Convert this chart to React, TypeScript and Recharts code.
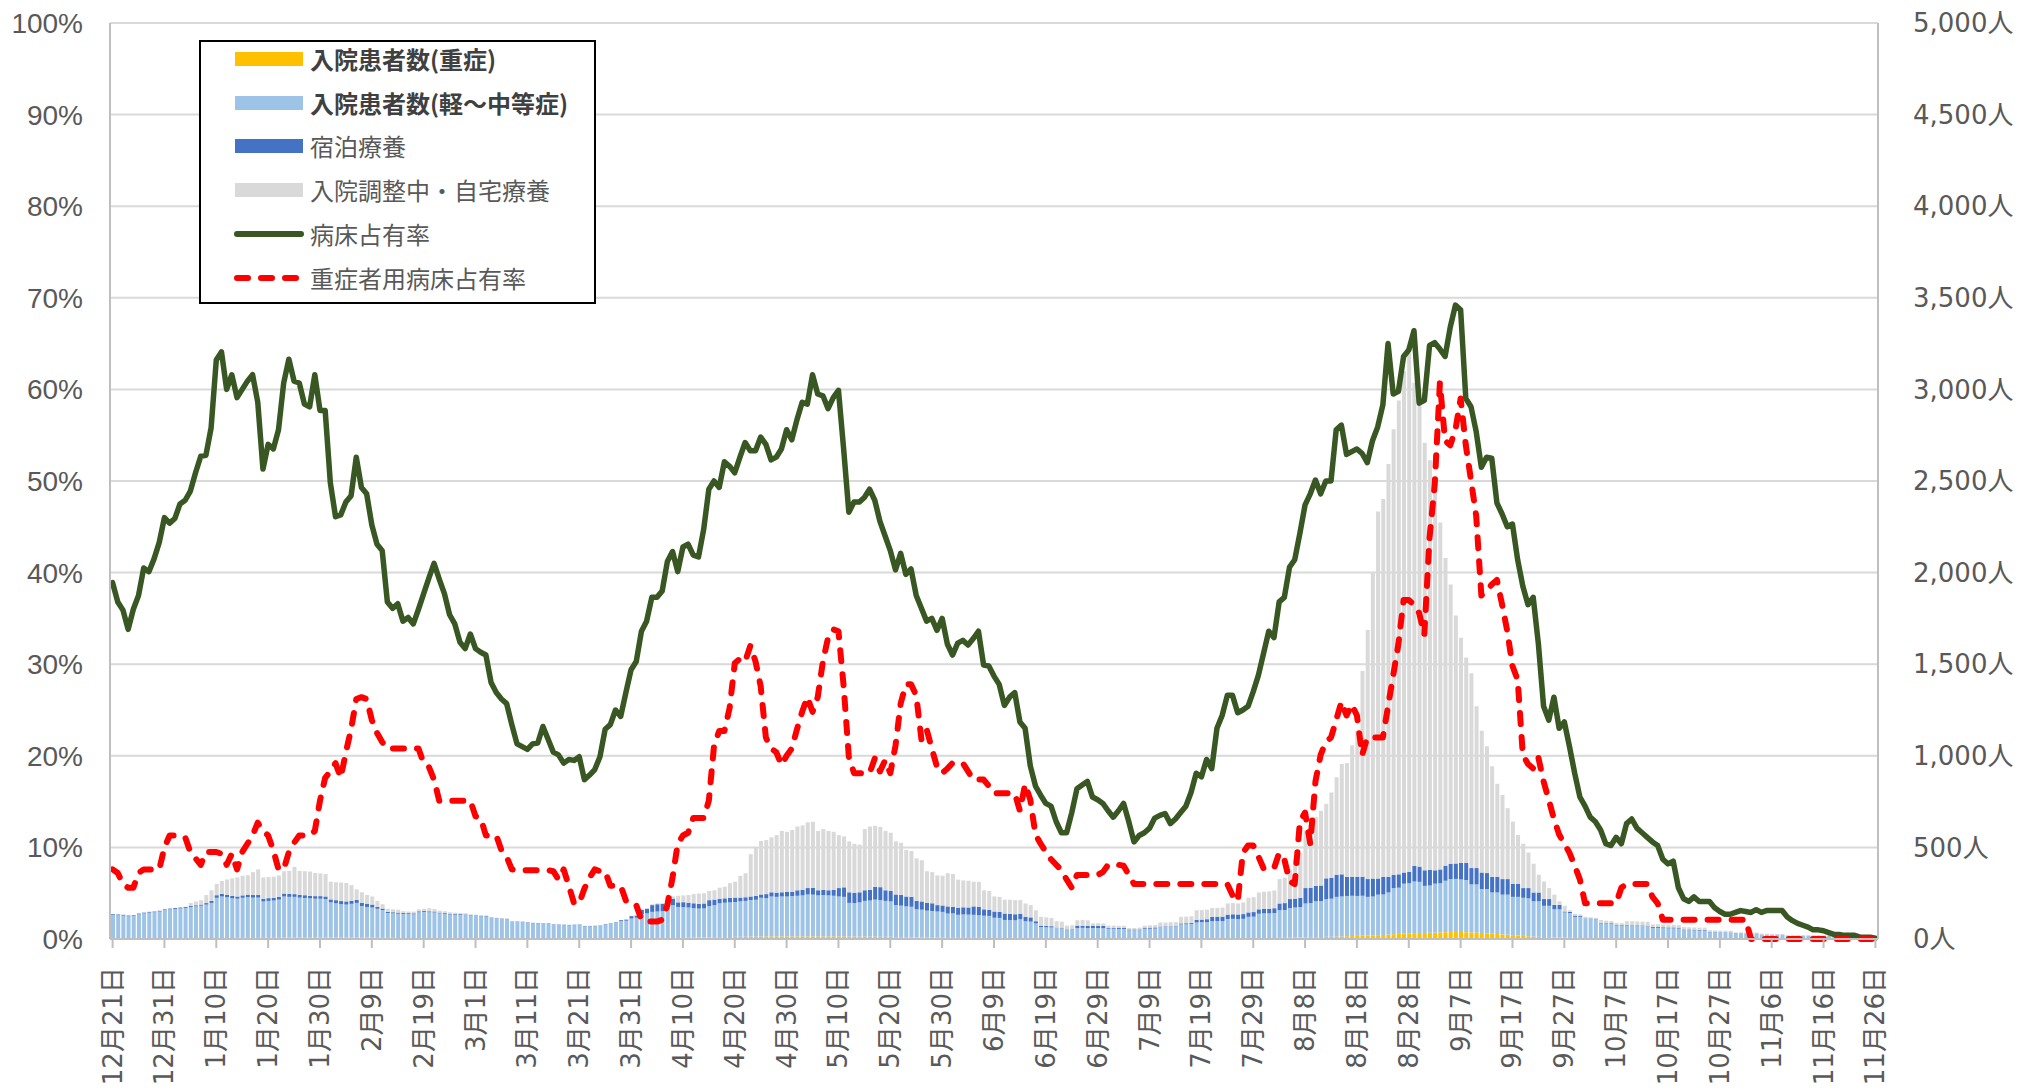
import {
  ComposedChart,
  Bar,
  Line,
  XAxis,
  YAxis,
  CartesianGrid,
  Legend,
} from "recharts";

// 12/21 .. 11/26, one entry per day (341 days)
const tickLabels = [
  "12月21日", "12月31日", "1月10日", "1月20日", "1月30日", "2月9日", "2月19日",
  "3月1日", "3月11日", "3月21日", "3月31日", "4月10日", "4月20日", "4月30日",
  "5月10日", "5月20日", "5月30日", "6月9日", "6月19日", "6月29日", "7月9日",
  "7月19日", "7月29日", "8月8日", "8月18日", "8月28日", "9月7日", "9月17日",
  "9月27日", "10月7日", "10月17日", "10月27日", "11月6日", "11月16日", "11月26日",
];

// 病床占有率 (%)
const bedRate = [
  38.9, 36.8, 35.9, 33.8, 36.0, 37.5, 40.5, 40.1, 41.5, 43.3,
  46.0, 45.4, 45.9, 47.5, 47.9, 48.9, 50.9, 52.7, 52.8, 55.8,
  63.2, 64.1, 60.0, 61.6, 59.1, 60.0, 60.9, 61.6, 58.6, 51.3,
  54.0, 53.5, 55.6, 60.7, 63.3, 60.9, 60.7, 58.4, 58.1, 61.6,
  57.7, 57.7, 49.8, 46.1, 46.3, 47.7, 48.4, 52.6, 49.3, 48.6,
  45.2, 43.1, 42.4, 36.8, 36.1, 36.6, 34.7, 35.1, 34.4, 36.0,
  37.7, 39.4, 41.0, 39.3, 37.7, 35.4, 34.4, 32.4, 31.7, 33.3,
  31.7, 31.3, 31.0, 28.0, 26.9, 26.2, 25.7, 23.4, 21.3, 21.0,
  20.7, 21.3, 21.4, 23.2, 21.8, 20.4, 20.1, 19.2, 19.6, 19.5,
  19.9, 17.4, 17.9, 18.5, 19.9, 22.9, 23.4, 25.0, 24.3, 26.9,
  29.4, 30.3, 33.6, 34.7, 37.3, 37.3, 38.0, 41.2, 42.3, 40.1,
  42.8, 43.1, 41.9, 41.7, 44.7, 49.1, 50.0, 49.3, 52.1, 51.6,
  50.9, 52.6, 54.2, 53.3, 53.3, 54.8, 54.0, 52.3, 52.6, 53.5,
  55.6, 54.5, 56.7, 58.6, 58.4, 61.6, 59.5, 59.3, 57.9, 59.1,
  59.9, 53.5, 46.6, 47.7, 47.7, 48.2, 49.1, 47.9, 45.6, 44.0,
  42.4, 40.3, 42.1, 39.8, 40.4, 37.5, 36.1, 34.7, 35.0, 33.7,
  35.0, 32.2, 31.0, 32.3, 32.6, 32.1, 32.8, 33.6, 29.9, 29.8,
  28.7, 27.8, 25.5, 26.4, 26.9, 23.7, 23.0, 18.9, 16.7, 15.7,
  14.8, 14.5, 12.8, 11.6, 11.6, 13.8, 16.4, 16.8, 17.2, 15.5,
  15.2, 14.8, 14.0, 13.3, 14.0, 14.8, 12.8, 10.6, 11.3, 11.6,
  12.1, 13.2, 13.5, 13.7, 12.6, 13.1, 13.8, 14.5, 16.0, 18.1,
  17.7, 19.6, 18.6, 23.0, 24.4, 26.6, 26.6, 24.7, 25.0, 25.4,
  27.0, 28.8, 31.2, 33.6, 32.9, 36.8, 37.3, 40.6, 41.4, 44.3,
  47.4, 48.6, 50.1, 48.6, 50.0, 50.0, 55.6, 56.1, 52.9, 53.2,
  53.5, 53.0, 52.0, 54.4, 55.9, 58.3, 65.0, 59.5, 59.8, 63.6,
  64.3, 66.4, 58.5, 58.8, 64.8, 65.1, 64.4, 63.6, 66.8, 69.2,
  68.7, 59.0, 58.1, 55.4, 51.5, 52.6, 52.5, 47.6, 46.4, 45.0,
  45.3, 41.4, 38.5, 36.5, 37.3, 32.2, 25.4, 23.9, 26.4, 23.0,
  23.7, 21.0, 18.1, 15.5, 14.5, 13.3, 12.8, 11.9, 10.4, 10.2,
  11.1, 10.4, 12.6, 13.1, 12.1, 11.6, 11.1, 10.6, 10.2, 8.7,
  8.2, 8.5, 5.6, 4.4, 4.1, 4.6, 4.1, 4.1, 4.1, 3.4,
  3.0, 2.7, 2.7, 2.9, 3.1, 3.0, 2.9, 3.2, 2.9, 3.1,
  3.1, 3.1, 3.1, 2.4, 2.0, 1.7, 1.5, 1.3, 1.0, 1.0,
  0.9, 0.7, 0.5, 0.5, 0.4, 0.4, 0.4, 0.2, 0.2, 0.2,
  0.1,
];

// 重症者用病床占有率 (%)
const severeBedRate = [
  7.6, 7.2, 6.0, 5.6, 5.6, 7.2, 7.6, 7.6, 7.6, 7.6,
  10.0, 11.3, 11.3, 11.3, 11.1, 9.5, 8.8, 8.1, 9.5, 9.5,
  9.5, 9.3, 8.1, 9.3, 7.6, 9.5, 10.4, 11.3, 12.7, 11.8,
  11.3, 9.7, 7.6, 7.6, 9.5, 10.5, 11.3, 11.3, 11.3, 11.8,
  15.1, 17.6, 18.3, 19.2, 17.6, 20.4, 22.9, 26.2, 26.4, 26.2,
  23.9, 22.5, 21.5, 20.8, 20.8, 20.8, 20.8, 20.8, 20.8, 20.8,
  19.2, 18.8, 17.4, 15.1, 15.1, 15.1, 15.1, 15.1, 15.1, 15.1,
  13.4, 13.2, 11.3, 11.3, 11.3, 9.7, 9.0, 7.6, 7.5, 7.5,
  7.5, 7.5, 7.5, 7.5, 7.5, 7.4, 6.5, 7.6, 5.8, 3.9,
  3.9, 5.5, 6.7, 7.6, 7.4, 7.4, 5.8, 5.8, 5.8, 4.2,
  3.7, 3.7, 2.1, 1.9, 1.9, 1.9, 2.1, 3.7, 6.7, 10.4,
  11.3, 11.6, 13.2, 13.2, 13.2, 15.1, 21.1, 22.7, 22.7, 25.2,
  30.1, 30.6, 30.3, 32.0, 30.3, 27.6, 22.0, 20.8, 20.4, 19.0,
  20.0, 20.8, 22.9, 24.8, 26.4, 24.8, 26.4, 30.3, 32.9, 33.8,
  33.6, 27.6, 19.9, 18.1, 18.1, 18.1, 18.1, 19.7, 18.3, 19.5,
  18.1, 21.1, 25.7, 27.8, 27.8, 26.6, 21.8, 22.9, 20.8, 18.8,
  18.1, 18.6, 19.2, 19.2, 19.2, 18.3, 17.4, 17.4, 17.4, 16.7,
  15.9, 15.9, 15.9, 15.9, 15.9, 14.0, 16.9, 15.2, 11.4, 10.4,
  9.5, 8.7, 8.1, 7.5, 6.5, 5.6, 7.0, 7.0, 7.0, 7.0,
  7.0, 7.3, 8.1, 8.1, 8.1, 8.0, 7.0, 6.0, 6.0, 6.0,
  6.0, 6.0, 6.0, 6.0, 6.0, 6.0, 6.0, 6.0, 6.0, 6.0,
  6.0, 6.0, 6.0, 6.0, 6.0, 6.0, 4.8, 4.1, 9.4, 10.2,
  10.2, 9.0, 7.7, 7.7, 7.7, 9.4, 8.7, 6.3, 6.0, 12.8,
  13.8, 10.4, 17.2, 20.1, 21.5, 22.0, 23.9, 25.9, 24.4, 25.6,
  24.4, 20.1, 22.0, 22.0, 22.0, 22.0, 25.4, 28.8, 32.2, 37.0,
  37.0, 36.5, 35.6, 33.2, 43.8, 49.6, 60.7, 54.4, 53.9, 55.6,
  59.0, 53.9, 50.1, 46.2, 37.5, 38.0, 38.7, 39.2, 36.5, 33.6,
  29.8, 28.3, 20.1, 19.1, 18.6, 19.8, 17.2, 15.2, 13.1, 11.4,
  10.4, 9.4, 8.0, 6.5, 3.9, 3.9, 3.9, 3.9, 3.9, 3.9,
  3.9, 5.6, 6.0, 6.0, 6.0, 6.0, 6.0, 4.6, 3.9, 2.1,
  2.1, 2.1, 2.1, 2.1, 2.1, 2.1, 2.1, 2.1, 2.1, 2.1,
  2.1, 2.1, 2.1, 2.1, 2.1, 2.1, 0, 0, 0, 0,
  0, 0, 0, 0, 0, 0, 0, 0, 0, 0,
  0, 0, 0, 0, 0, 0, 0, 0, 0, 0,
  0,
];

// 入院患者数(重症) 人
const severe = [
  4, 4, 4, 4, 4, 4, 4, 4, 4, 4,
  4, 4, 4, 5, 5, 5, 5, 5, 5, 5,
  5, 5, 5, 5, 6, 6, 6, 6, 6, 6,
  6, 6, 6, 7, 7, 7, 7, 7, 7, 7,
  7, 7, 7, 7, 7, 7, 7, 7, 7, 7,
  7, 6, 6, 6, 6, 5, 5, 5, 5, 5,
  5, 5, 4, 4, 4, 4, 4, 4, 4, 4,
  4, 4, 3, 3, 3, 3, 3, 3, 3, 3,
  3, 3, 3, 3, 3, 3, 3, 3, 3, 3,
  3, 3, 3, 3, 3, 3, 3, 3, 3, 3,
  3, 3, 3, 4, 4, 4, 4, 5, 5, 5,
  6, 7, 8, 8, 9, 9, 10, 10, 11, 11,
  12, 12, 12, 13, 13, 13, 14, 14, 14, 14,
  14, 14, 14, 14, 14, 14, 14, 14, 14, 14,
  14, 14, 13, 13, 13, 13, 13, 13, 12, 12,
  12, 10, 10, 9, 9, 8, 8, 7, 7, 7,
  7, 6, 6, 6, 6, 6, 6, 6, 5, 5,
  5, 5, 5, 5, 4, 4, 4, 4, 4, 3,
  3, 3, 3, 3, 3, 3, 3, 3, 3, 3,
  3, 3, 3, 3, 3, 3, 3, 3, 3, 3,
  3, 3, 3, 3, 3, 3, 3, 3, 3, 3,
  3, 3, 4, 4, 4, 4, 4, 4, 4, 4,
  4, 5, 5, 5, 5, 6, 6, 7, 7, 8,
  9, 10, 10, 11, 12, 12, 13, 14, 15, 16,
  17, 18, 19, 20, 21, 22, 24, 26, 28, 30,
  31, 32, 33, 33, 34, 35, 36, 37, 38, 38,
  38, 37, 36, 35, 33, 31, 29, 27, 25, 23,
  21, 19, 17, 15, 13, 12, 11, 10, 9, 8,
  7, 6, 5, 5, 4, 4, 4, 3, 3, 3,
  3, 3, 3, 3, 3, 3, 3, 2, 2, 2,
  2, 2, 2, 2, 2, 2, 2, 2, 1, 1,
  1, 1, 1, 1, 1, 1, 1, 1, 1, 1,
  1, 1, 1, 0, 0, 0, 0, 0, 0, 0,
  0, 0, 0, 0, 0, 0, 0, 0, 0, 0,
  0,
];

// 入院患者数(軽～中等症) 人
const mild = [
  128, 126, 124, 120, 122, 131, 136, 140, 142, 146,
  154, 158, 160, 162, 165, 170, 173, 177, 183, 192,
  220, 227, 223, 217, 214, 219, 222, 220, 220, 199,
  202, 204, 209, 225, 223, 223, 219, 217, 215, 213,
  213, 211, 193, 188, 183, 181, 185, 190, 173, 168,
  165, 159, 152, 136, 134, 133, 132, 131, 130, 141,
  143, 141, 141, 136, 134, 130, 129, 128, 127, 123,
  122, 120, 120, 112, 109, 107, 105, 92, 90, 89,
  87, 83, 82, 81, 81, 75, 74, 73, 72, 73,
  74, 66, 66, 67, 69, 77, 81, 85, 95, 97,
  109, 113, 132, 136, 144, 146, 148, 175, 180, 170,
  168, 165, 160, 158, 158, 171, 175, 185, 187, 189,
  190, 194, 196, 200, 201, 212, 209, 218, 216, 218,
  218, 220, 222, 224, 229, 228, 224, 226, 224, 222,
  218, 216, 184, 183, 187, 195, 197, 202, 200, 196,
  193, 175, 172, 169, 167, 154, 152, 148, 146, 143,
  141, 133, 134, 126, 128, 127, 126, 124, 122, 121,
  111, 110, 99, 98, 98, 104, 93, 91, 81, 62,
  61, 60, 57, 55, 45, 47, 57, 58, 57, 57,
  57, 56, 53, 53, 52, 52, 45, 45, 45, 53,
  53, 54, 62, 63, 63, 64, 77, 78, 79, 87,
  89, 89, 93, 94, 94, 105, 106, 104, 106, 117,
  118, 133, 135, 135, 137, 151, 152, 162, 165, 166,
  185, 186, 196, 196, 206, 208, 217, 218, 220, 220,
  218, 218, 211, 212, 221, 221, 230, 252, 252, 272,
  273, 282, 279, 257, 258, 267, 268, 281, 289, 290,
  287, 285, 262, 263, 240, 242, 225, 227, 217, 219,
  209, 211, 208, 207, 193, 194, 170, 171, 153, 154,
  138, 136, 116, 116, 105, 105, 104, 82, 82, 81,
  70, 70, 70, 69, 69, 68, 67, 58, 58, 57,
  56, 56, 55, 46, 46, 45, 44, 44, 35, 35,
  34, 34, 33, 31, 30, 29, 29, 29, 23, 23,
  22, 22, 22, 17, 17, 17, 17, 17, 17, 17,
  16, 16, 16, 15, 15, 15, 15, 14, 14, 14,
  14,
];

// 宿泊療養 人
const hotel = [
  4, 4, 4, 4, 4, 4, 4, 4, 4, 4,
  4, 4, 5, 5, 5, 5, 6, 6, 8, 11,
  14, 14, 14, 13, 12, 13, 14, 14, 14, 15,
  15, 15, 15, 16, 16, 15, 15, 15, 14, 14,
  14, 14, 16, 17, 17, 17, 16, 16, 17, 18,
  16, 10, 8, 6, 6, 6, 5, 5, 5, 5,
  5, 5, 5, 4, 4, 4, 4, 4, 3, 3,
  3, 3, 3, 2, 2, 2, 2, 2, 2, 2,
  2, 2, 2, 2, 2, 2, 2, 2, 2, 2,
  2, 2, 2, 2, 2, 2, 2, 3, 5, 6,
  13, 12, 25, 25, 37, 40, 40, 35, 35, 25,
  27, 26, 27, 26, 27, 32, 30, 25, 24, 25,
  24, 20, 20, 19, 22, 18, 22, 23, 23, 23,
  25, 24, 30, 30, 35, 38, 28, 28, 28, 32,
  46, 52, 58, 56, 55, 58, 58, 70, 71, 58,
  57, 58, 58, 54, 54, 46, 45, 42, 42, 35,
  35, 39, 36, 39, 39, 39, 46, 46, 35, 34,
  34, 33, 35, 34, 33, 30, 24, 23, 12, 8,
  8, 7, 2, 2, 4, 3, 13, 11, 12, 13,
  12, 13, 4, 4, 5, 5, 4, 4, 4, 6,
  6, 6, 3, 3, 3, 3, 5, 5, 5, 15,
  14, 16, 24, 24, 24, 24, 25, 26, 26, 24,
  25, 24, 24, 25, 26, 37, 38, 49, 48, 51,
  84, 84, 84, 85, 113, 113, 121, 121, 104, 104,
  104, 104, 97, 98, 88, 96, 85, 73, 73, 61,
  62, 85, 83, 85, 86, 73, 76, 82, 84, 84,
  90, 94, 89, 89, 90, 87, 85, 85, 85, 85,
  72, 72, 53, 56, 48, 48, 37, 37, 24, 24,
  5, 6, 7, 6, 3, 3, 3, 3, 3, 3,
  3, 3, 3, 3, 3, 3, 3, 5, 5, 5,
  5, 5, 5, 4, 4, 4, 4, 4, 2, 2,
  2, 2, 2, 1, 1, 1, 1, 1, 1, 1,
  1, 1, 1, 1, 1, 1, 1, 1, 1, 1,
  1, 1, 1, 1, 1, 1, 1, 1, 1, 1,
  1,
];

// 入院調整中・自宅療養 人
const home = [
  1, 1, 1, 1, 1, 1, 1, 1, 1, 1,
  1, 1, 1, 1, 1, 17, 21, 24, 44, 58,
  62, 71, 83, 96, 104, 107, 106, 125, 140, 116,
  115, 115, 117, 122, 126, 149, 131, 131, 132, 126,
  124, 123, 97, 98, 101, 101, 86, 58, 58, 47,
  44, 33, 24, 17, 16, 16, 10, 9, 10, 11,
  12, 17, 14, 11, 10, 8, 7, 6, 7, 5,
  4, 4, 3, 1, 2, 2, 2, 1, 1, 1,
  1, 1, 1, 1, 1, 0, 0, 0, 1, 0,
  1, 1, 1, 1, 1, 1, 1, 1, 1, 2,
  2, 2, 3, 3, 5, 5, 3, 13, 12, 36,
  37, 42, 50, 56, 56, 50, 51, 60, 63, 80,
  87, 119, 131, 231, 262, 292, 295, 300, 314, 335,
  328, 337, 348, 352, 359, 360, 324, 332, 324, 317,
  289, 278, 278, 268, 260, 334, 346, 333, 329, 324,
  318, 290, 285, 254, 250, 232, 225, 173, 170, 162,
  162, 181, 179, 153, 147, 146, 135, 136, 104, 102,
  82, 82, 76, 77, 77, 74, 73, 67, 60, 48,
  46, 45, 35, 35, 21, 22, 29, 32, 30, 12,
  14, 13, 13, 13, 12, 12, 8, 8, 10, 11,
  13, 13, 22, 21, 23, 22, 36, 36, 37, 52,
  52, 52, 48, 48, 50, 61, 61, 60, 64, 80,
  81, 92, 94, 95, 97, 133, 139, 162, 215, 245,
  315, 340, 375, 408, 407, 467, 532, 602, 621, 717,
  798, 1123, 1359, 1666, 2004, 2063, 2254, 2431, 2586, 2737,
  2834, 2637, 2544, 2334, 2235, 2075, 1894, 1680, 1524, 1354,
  1230, 1120, 1064, 883, 774, 692, 604, 508, 459, 387,
  339, 266, 242, 194, 157, 97, 96, 60, 56, 20,
  31, 9, 10, 7, 9, 6, 4, 16, 12, 11,
  12, 11, 21, 22, 21, 21, 21, 15, 15, 15,
  15, 14, 14, 13, 12, 12, 12, 12, 10, 9,
  9, 8, 9, 3, 4, 4, 4, 4, 4, 3,
  4, 3, 3, 1, 1, 1, 1, 1, 1, 1,
  1, 1, 1, 1, 1, 1, 1, 1, 1, 1,
  1,
];

const pctTicks = [0, 10, 20, 30, 40, 50, 60, 70, 80, 90, 100];
const personTicks = [0, 500, 1000, 1500, 2000, 2500, 3000, 3500, 4000, 4500, 5000];

const data = bedRate.map((v, i) => ({
  day: i,
  severe: severe[i],
  mild: mild[i],
  hotel: hotel[i],
  home: home[i],
  bed: v,
  severeBed: severeBedRate[i],
}));

const legendItems = [
  { label: "入院患者数(重症)", color: "#FFC000", kind: "bar", bold: true },
  { label: "入院患者数(軽～中等症)", color: "#9DC3E6", kind: "bar", bold: true },
  { label: "宿泊療養", color: "#4472C4", kind: "bar", bold: false },
  { label: "入院調整中・自宅療養", color: "#D9D9D9", kind: "bar", bold: false },
  { label: "病床占有率", color: "#385723", kind: "line", bold: false },
  { label: "重症者用病床占有率", color: "#FF0000", kind: "dash", bold: false },
];

const CJK = "'Noto Sans CJK JP', sans-serif";
const WIDE = "'DejaVu Sans', 'Noto Sans CJK JP', sans-serif";

function LegendBox() {
  return (
    <div
      style={{
        width: 397,
        height: 264,
        boxSizing: "border-box",
        border: "2px solid #000",
        background: "#fff",
        position: "relative",
      }}
    >
      {legendItems.map((it, k) => {
        const cy = 17 + k * 43.7;
        return (
          <div key={it.label} style={{ position: "absolute", left: 0, top: cy - 16, height: 32, width: "100%" }}>
            <svg width={80} height={32} style={{ position: "absolute", left: 30, top: 0 }}>
              {it.kind === "bar" && <rect x={4} y={9} width={68} height={14} fill={it.color} />}
              {it.kind === "line" && (
                <line x1={6} y1={16} x2={70} y2={16} stroke={it.color} strokeWidth={6} strokeLinecap="round" />
              )}
              {it.kind === "dash" && (
                <line x1={6} y1={16} x2={70} y2={16} stroke={it.color} strokeWidth={6}
                  strokeLinecap="round" strokeDasharray="11 13" />
              )}
            </svg>
            <span
              style={{
                position: "absolute",
                left: 109,
                top: 0,
                lineHeight: "32px",
                fontSize: 24,
                fontFamily: CJK,
                fontWeight: it.bold ? 700 : 400,
                color: it.bold ? "#404040" : "#595959",
                whiteSpace: "nowrap",
              }}
            >
              {it.label}
            </span>
          </div>
        );
      })}
    </div>
  );
}

function DateTick(props: any) {
  const { x, y, payload } = props;
  const label = tickLabels[Math.round(payload.value / 10)];
  return (
    <text
      x={x}
      y={y}
      transform={`rotate(-90 ${x} ${y})`}
      textAnchor="end"
      dominantBaseline="central"
      fill="#595959"
      fontSize={26}
      fontFamily={WIDE}
    >
      {label}
    </text>
  );
}

export default function App() {
  return (
    <div style={{ position: "absolute", left: 0, top: 0, width: 2017, height: 1091, background: "#fff", fontFamily: CJK }}>
      <ComposedChart
        width={2017}
        height={1091}
        data={data}
        margin={{ top: 23, right: 0, bottom: 0, left: 0 }}
        barGap={0}
      >
        <CartesianGrid yAxisId="pct" vertical={false} stroke="#D9D9D9" strokeWidth={2} />
        <XAxis
          dataKey="day"
          interval={9}
          height={152}
          tick={<DateTick />}
          tickSize={9}
          tickMargin={19}
          stroke="#BFBFBF"
          strokeWidth={2}
          tickLine={{ stroke: "#BFBFBF", strokeWidth: 2 }}
        />
        <YAxis
          yAxisId="pct"
          orientation="left"
          width={110}
          domain={[0, 100]}
          ticks={pctTicks}
          tickFormatter={(v) => `${v}%`}
          tickSize={0}
          tickMargin={27}
          stroke="#BFBFBF"
          strokeWidth={2}
          tick={{ fill: "#595959", fontSize: 28, fontFamily: "'Liberation Sans', sans-serif" }}
        />
        <YAxis
          yAxisId="ppl"
          orientation="right"
          width={139}
          domain={[0, 5000]}
          ticks={personTicks}
          tickFormatter={(v) => `${Number(v).toLocaleString("en-US")}人`}
          tickSize={0}
          tickMargin={35}
          stroke="#BFBFBF"
          strokeWidth={2}
          tick={{ fill: "#595959", fontSize: 26, fontFamily: WIDE }}
        />
        <Bar yAxisId="ppl" dataKey="severe" stackId="a" fill="#FFC000" barSize={4} isAnimationActive={false} />
        <Bar yAxisId="ppl" dataKey="mild" stackId="a" fill="#9DC3E6" barSize={4} isAnimationActive={false} />
        <Bar yAxisId="ppl" dataKey="hotel" stackId="a" fill="#4472C4" barSize={4} isAnimationActive={false} />
        <Bar yAxisId="ppl" dataKey="home" stackId="a" fill="#D9D9D9" barSize={4} isAnimationActive={false} />
        <Line
          yAxisId="pct"
          dataKey="bed"
          type="linear"
          stroke="#385723"
          strokeWidth={5.5}
          strokeLinejoin="round"
          strokeLinecap="round"
          dot={false}
          activeDot={false}
          isAnimationActive={false}
        />
        <Line
          yAxisId="pct"
          dataKey="severeBed"
          type="linear"
          stroke="#FF0000"
          strokeWidth={6}
          strokeLinejoin="round"
          strokeLinecap="round"
          strokeDasharray="11 13"
          dot={false}
          activeDot={false}
          isAnimationActive={false}
        />
        <Legend
          layout="vertical"
          align="center"
          verticalAlign="middle"
          wrapperStyle={{ left: 199, top: 40, width: 397, height: 264 }}
          content={() => <LegendBox />}
        />
      </ComposedChart>
    </div>
  );
}
